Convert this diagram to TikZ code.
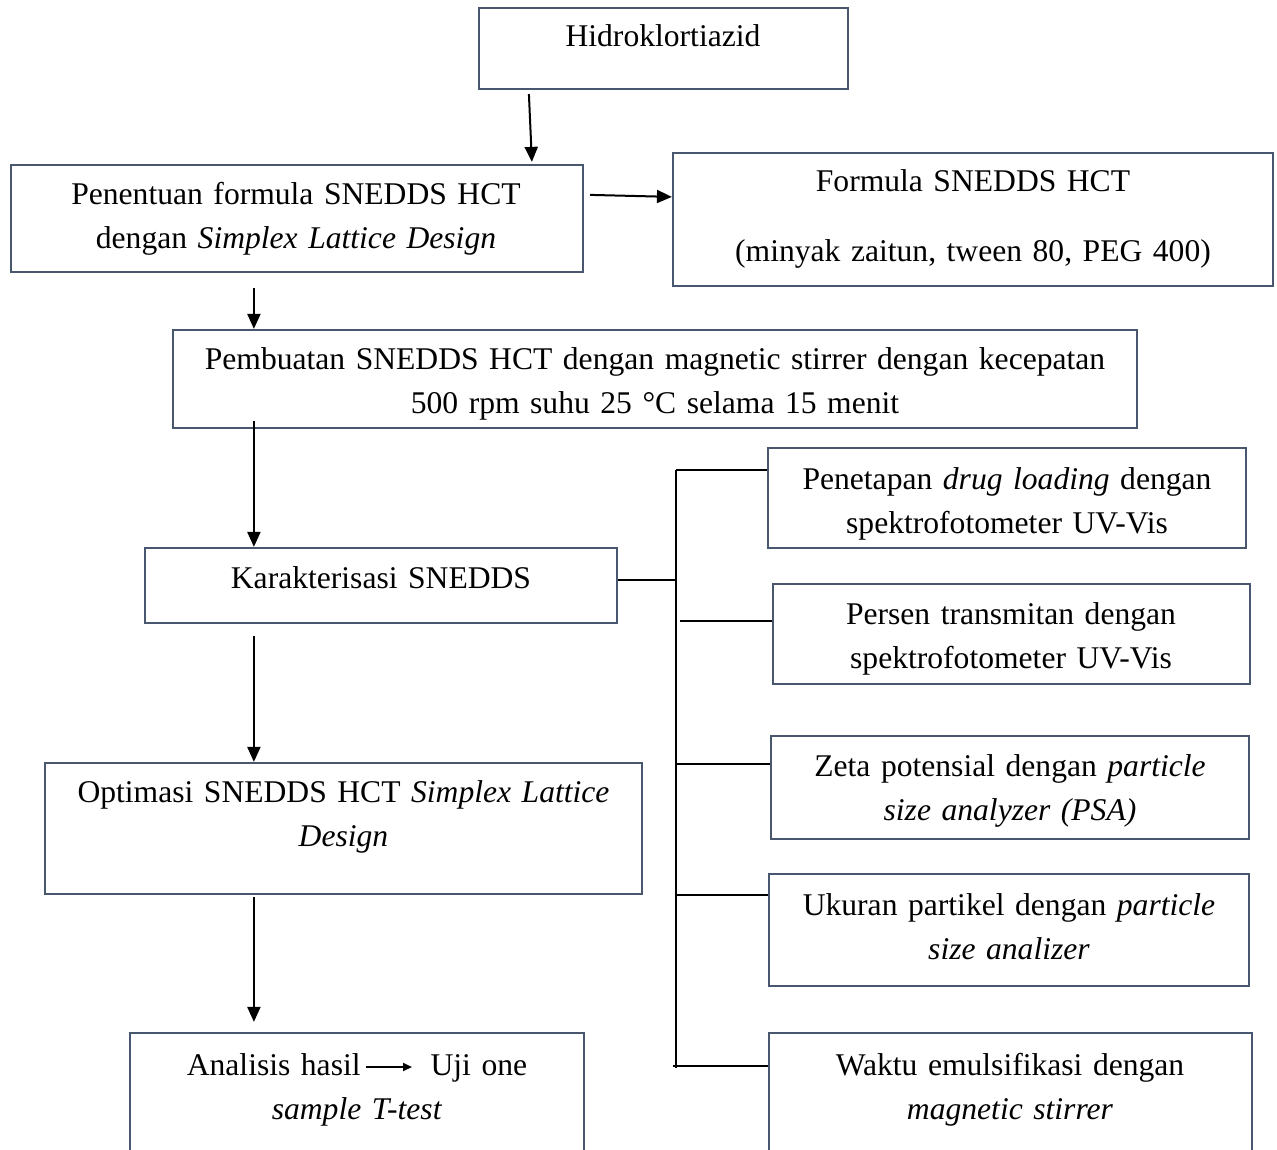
\documentclass[tikz,border=0pt]{standalone}
\usepackage{fontspec}
\setmainfont{Liberation Serif}
\usetikzlibrary{arrows.meta,calc}
\definecolor{boxc}{HTML}{48576E}
\begin{document}
\begin{tikzpicture}[x=0.5pt,y=-0.5pt,
  font=\fontsize{15.8pt}{22pt}\selectfont,
  box/.style={draw=boxc, line width=1.1pt, rectangle, inner sep=0pt},
  txt/.style={anchor=base, text width=480pt, align=center, inner sep=0pt},
  arr/.style={line width=1pt, -{Triangle[length=7.5pt,width=6.5pt]}},
  smallarr/.style={line width=0.9pt, -{Triangle[length=4.5pt,width=4pt]}},
  thinline/.style={line width=0.6pt}]
\useasboundingbox (0,0) rectangle (1277,1149);
\clip (0,0) rectangle (1277,1149);

% boxes
\node[box, minimum width=184.5pt, minimum height=40.5pt] (b1) at (663.5,48.5) {};
\node[box, minimum width=286pt, minimum height=53.5pt] (b2) at (297,218.5) {};
\node[box, minimum width=300pt, minimum height=66.5pt] (b3) at (973,219.5) {};
\node[box, minimum width=482pt, minimum height=49pt] (b4) at (655,379) {};
\node[box, minimum width=236pt, minimum height=37.5pt] (b5) at (381,585.5) {};
\node[box, minimum width=298.5pt, minimum height=65.5pt] (b6) at (343.5,828.5) {};
\node[box, minimum width=227pt, minimum height=68.5pt] (b7) at (357,1101.5) {};
\node[box, minimum width=239pt, minimum height=50pt] (r1) at (1007,498) {};
\node[box, minimum width=238.5pt, minimum height=50pt] (r2) at (1011.5,634) {};
\node[box, minimum width=239pt, minimum height=51.5pt] (r3) at (1010,787.5) {};
\node[box, minimum width=240pt, minimum height=56pt] (r4) at (1009,930) {};
\node[box, minimum width=241.5pt, minimum height=68.5pt] (r5) at (1010.5,1101.5) {};

% texts
\node[txt] (t1) at (663,47) {Hidroklortiazid};
\node[txt] (t2) at (296,205) {Penentuan formula SNEDDS HCT\\dengan \textit{Simplex Lattice Design}};
\node[txt] (t3) at (973,192) {Formula SNEDDS HCT\\[13pt](minyak zaitun, tween 80, PEG 400)};
\node[txt] (t4) at (655,370) {Pembuatan SNEDDS HCT dengan magnetic stirrer dengan kecepatan\\500 rpm suhu 25 °C selama 15 menit};
\node[txt] (t5) at (381,588) {Karakterisasi SNEDDS};
\node[txt] (t6) at (343.5,802) {Optimasi SNEDDS HCT \textit{Simplex Lattice}\\\textit{Design}};
\node[txt] (t7) at (357,1075) {Analisis hasil\hspace{35pt}Uji one\\\textit{sample T-test}};
\node[txt] (t8) at (1007,489) {Penetapan \textit{drug loading} dengan\\spektrofotometer UV-Vis};
\node[txt] (t9) at (1011,624) {Persen transmitan dengan\\spektrofotometer UV-Vis};
\node[txt] (t10) at (1010,776) {Zeta potensial dengan \textit{particle}\\\textit{size analyzer (PSA)}};
\node[txt] (t11) at (1009,915) {Ukuran partikel dengan \textit{particle}\\\textit{size analizer}};
\node[txt] (t12) at (1010,1075) {Waktu emulsifikasi dengan\\\textit{magnetic stirrer}};

% inline arrow inside the last box
\coordinate (aL) at (366,1067);
\coordinate (aR) at (412,1067);
\draw[smallarr] (aL) -- (aR);

% main arrows
\draw[arr] ($(b1.south west)+(51,4)$) -- ($(b2.north west)+(522,-2)$);
\draw[arr] ($(b2.north east)+(6,31)$) -- ($(b3.north west)+(0,45)$);
\draw[arr] ($(b2.south west)+(244,15)$) -- ($(b4.north west)+(82,0)$);
\draw[arr] ($(b4.south west)+(82,-8)$) -- ($(b5.north west)+(110,0)$);
\draw[arr] ($(b5.south west)+(110,12)$) -- ($(b6.north west)+(210,0)$);
\draw[arr] ($(b6.south west)+(210,2)$) -- ($(b7.north west)+(125,-10)$);

% bracket
\coordinate (sTop) at (676,470);
\coordinate (sBot) at (676,1068);
\coordinate (s1) at ($(b5.north east)+(0,33)$);
\coordinate (s2) at (680,621);
\coordinate (s3) at (676,764);
\coordinate (s4) at (676,895);
\coordinate (s5) at (673,1066);
\draw[thinline] (sTop) -- (sBot);
\draw[thinline] (s1) -- (s1 -| sTop);
\draw[thinline] (sTop) -- (sTop -| r1.west);
\draw[thinline] (s2) -- (s2 -| r2.west);
\draw[thinline] (s3) -- (s3 -| r3.west);
\draw[thinline] (s4) -- (s4 -| r4.west);
\draw[thinline] (s5) -- (s5 -| r5.west);
\end{tikzpicture}
\end{document}
